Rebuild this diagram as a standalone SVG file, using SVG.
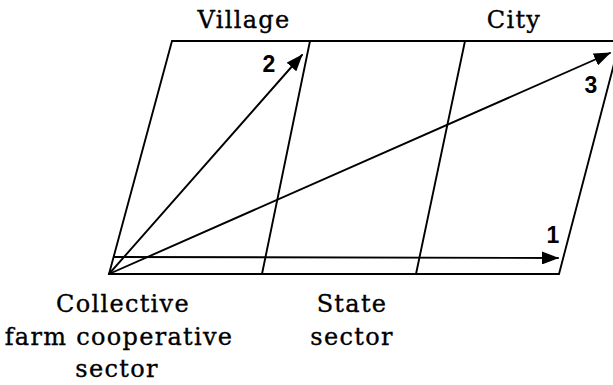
<svg xmlns="http://www.w3.org/2000/svg" width="613" height="385" viewBox="0 0 613 385">
<style>
.ln{stroke:#000;stroke-width:1.9;fill:none;stroke-linecap:round}
.lbl{font-family:"DejaVu Serif",serif;font-size:24px;letter-spacing:1.3px;fill:#000;stroke:#000;stroke-width:0.35;text-anchor:middle}
.num{font-family:"Liberation Sans",Arial,sans-serif;font-weight:bold;font-size:23px;fill:#000;text-anchor:middle}
</style>
<defs>
<marker id="ah" markerUnits="userSpaceOnUse" markerWidth="17" markerHeight="13" refX="16" refY="6.5" orient="auto">
<path d="M0,0 L17,6.5 L0,13 Z" fill="#000"/>
</marker>
</defs>
<rect width="613" height="385" fill="#fff"/>
<g id="grid">
<polyline class="ln" points="613,41 172,41 109,274 559,274 620,41"/>
<line class="ln" x1="310" y1="41" x2="262" y2="274"/>
<line class="ln" x1="465" y1="41" x2="416" y2="274"/>
</g>
<g id="connectors">
<line class="ln" x1="114" y1="257" x2="558" y2="258" marker-end="url(#ah)"/>
<line class="ln" x1="109" y1="274" x2="302" y2="55" marker-end="url(#ah)"/>
<line class="ln" x1="109" y1="274" x2="610" y2="53" marker-end="url(#ah)"/>
</g>
<g id="num1"><text class="num" x="553" y="243">1</text></g>
<g id="num2"><text class="num" x="269" y="72">2</text></g>
<g id="num3"><text class="num" x="591" y="93">3</text></g>
<g id="village"><text class="lbl" x="244" y="28">Village</text></g>
<g id="city"><text class="lbl" x="514" y="28">City</text></g>
<g id="collective">
<text class="lbl" x="123" y="312">Collective</text>
<text class="lbl" x="119" y="345">farm cooperative</text>
<text class="lbl" x="117" y="377">sector</text>
</g>
<g id="state">
<text class="lbl" x="352" y="312">State</text>
<text class="lbl" x="352" y="345">sector</text>
</g>
</svg>
